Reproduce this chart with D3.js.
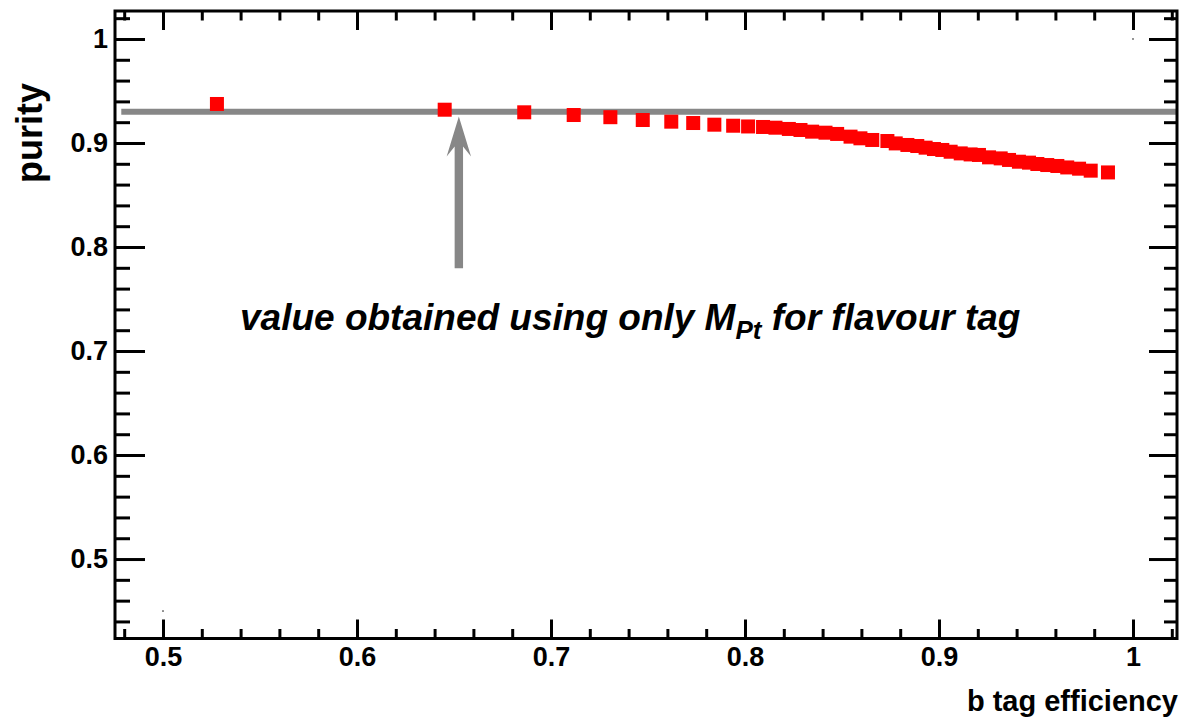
<!DOCTYPE html>
<html>
<head>
<meta charset="utf-8">
<script src="https://cdn.jsdelivr.net/npm/d3@7/dist/d3.min.js"></script>
<style>
  html, body { margin: 0; padding: 0; background: #fff; }
  svg { display: block; font-family: "Liberation Sans", Arial, Helvetica, sans-serif; }
</style>
</head>
<body>
<svg id="chart" width="1180" height="719"></svg>
<script>
// ---- data ----
const efficiency = [
  0.5278, 0.6452, 0.6862, 0.7117, 0.7306, 0.7473, 0.7620, 0.7733, 0.7842, 0.7939, 0.8016,
  0.8093, 0.8157, 0.8226, 0.8286, 0.8346, 0.8415, 0.8475, 0.8544, 0.8595, 0.8656,
  0.8734, 0.8777, 0.8837, 0.8888, 0.8931, 0.8974, 0.9017, 0.9060, 0.9112, 0.9163, 0.9206, 0.9258,
  0.9318, 0.9361, 0.9412, 0.9464, 0.9507, 0.9558, 0.9610, 0.9661, 0.9722, 0.9782, 0.9871
];
const purity = [
  0.9375, 0.9320, 0.9295, 0.9269, 0.9248, 0.9221, 0.9205, 0.9192, 0.9176, 0.9166, 0.9159,
  0.9154, 0.9147, 0.9135, 0.9125, 0.9109, 0.9099, 0.9087, 0.9061, 0.9045, 0.9029,
  0.9019, 0.8996, 0.8981, 0.8971, 0.8955, 0.8942, 0.8933, 0.8916, 0.8900, 0.8890, 0.8885, 0.8862,
  0.8852, 0.8837, 0.8820, 0.8811, 0.8798, 0.8788, 0.8779, 0.8765, 0.8753, 0.8734, 0.8717
];
// tiny range-setting points visible in the frame
const rangeX = [0.5, 1.0];
const rangeY = [0.45, 1.0];
// reference value (M_Pt only)
const referencePurity = 0.93;
const arrowX = 0.6525;
const arrowFrom = 0.7795;
const arrowTo = 0.9255;

const xTickLabels = ["0.5", "0.6", "0.7", "0.8", "0.9", "1"];
const yTickLabels = ["0.5", "0.6", "0.7", "0.8", "0.9", "1"];
const xTitle = "b tag efficiency";
const yTitle = "purity";

// ---- layout ----
const svg = d3.select("#chart");
const L = 115, R = 1177, T = 11, B = 638.5;
const x = d3.scaleLinear().domain([0.47526, 1.02268]).range([L, R]);
const y = d3.scaleLinear().domain([0.4236, 1.0269]).range([B, T]);

const xMajor = xTickLabels.map(Number);
const yMajor = yTickLabels.map(Number);
const xMinor = d3.range(24, 52).map(i => i * 0.02).filter(v => v >= 0.4753 && v <= 1.0227 && !xMajor.some(m => Math.abs(m - v) < 1e-6));
const yMinor = d3.range(22, 52).map(i => i * 0.02).filter(v => v >= 0.4236 && v <= 1.0269 && !yMajor.some(m => Math.abs(m - v) < 1e-6));

const grey = "#878787";

// ---- reference line ----
svg.append("line")
  .attr("x1", x(0.4785)).attr("x2", x(1.0227))
  .attr("y1", y(referencePurity)).attr("y2", y(referencePurity))
  .attr("stroke", grey).attr("stroke-width", 6);

// ---- data squares ----
const pts = efficiency.map((e, i) => ({ e, p: purity[i] }));
svg.append("g").selectAll("rect").data(pts).join("rect")
  .attr("x", d => x(d.e) - 7).attr("y", d => y(d.p) - 7)
  .attr("width", 14).attr("height", 14)
  .attr("fill", "#ff0000");

// tiny dots
svg.append("g").selectAll("rect").data(rangeX.map((v, i) => ({ e: v, p: rangeY[i] }))).join("rect")
  .attr("x", d => x(d.e) - 0.75).attr("y", d => y(d.p) - 0.75)
  .attr("width", 1.5).attr("height", 1.5).attr("fill", "#444");

// ---- arrow ----
const ax = x(arrowX), ay0 = y(arrowFrom), ay1 = y(arrowTo);
const sw = 4.2, hw = 12.2, hl = 40, notch = 30;
svg.append("path")
  .attr("d", `M${ax},${ay1} L${ax + hw},${ay1 + hl} L${ax + sw},${ay1 + notch} L${ax + sw},${ay0} L${ax - sw},${ay0} L${ax - sw},${ay1 + notch} L${ax - hw},${ay1 + hl} Z`)
  .attr("fill", grey);

// ---- annotation ----
const ann = svg.append("text")
  .attr("x", x(0.5397)).attr("y", y(0.7202))
  .attr("font-size", 37).attr("font-weight", "bold").attr("font-style", "italic")
  .attr("fill", "#000");
ann.append("tspan").text("value obtained using only M");
ann.append("tspan").attr("font-size", 26).attr("dy", 9).text("Pt");
ann.append("tspan").attr("dy", -9).text(" for flavour tag");

// ---- axes (ticks) ----
function tickStyle(g) {
  g.select(".domain").remove();
  g.selectAll(".tick line").attr("stroke", "#000").attr("stroke-width", 3);
}
// bottom
svg.append("g").attr("transform", `translate(0,${B})`)
  .call(d3.axisBottom(x).tickValues(xMajor).tickSize(-19).tickPadding(8.5)
    .tickFormat((d, i) => xTickLabels[i]))
  .call(tickStyle)
  .call(g => g.selectAll(".tick text").attr("font-size", 27).attr("font-weight", "bold").attr("fill", "#000")
    .attr("font-family", "Liberation Sans, Arial, sans-serif"));
svg.append("g").attr("transform", `translate(0,${B})`)
  .call(d3.axisBottom(x).tickValues(xMinor).tickSize(-9.5).tickFormat(""))
  .call(tickStyle);
// top
svg.append("g").attr("transform", `translate(0,${T})`)
  .call(d3.axisTop(x).tickValues(xMajor).tickSize(-19).tickFormat(""))
  .call(tickStyle);
svg.append("g").attr("transform", `translate(0,${T})`)
  .call(d3.axisTop(x).tickValues(xMinor).tickSize(-9.5).tickFormat(""))
  .call(tickStyle);
// left
svg.append("g").attr("transform", `translate(${L},0)`)
  .call(d3.axisLeft(y).tickValues(yMajor).tickSize(-30).tickPadding(7)
    .tickFormat((d, i) => yTickLabels[i]))
  .call(tickStyle)
  .call(g => g.selectAll(".tick text").attr("font-size", 27).attr("font-weight", "bold").attr("fill", "#000")
    .attr("font-family", "Liberation Sans, Arial, sans-serif"));
svg.append("g").attr("transform", `translate(${L},0)`)
  .call(d3.axisLeft(y).tickValues(yMinor).tickSize(-15).tickFormat(""))
  .call(tickStyle);
// right
svg.append("g").attr("transform", `translate(${R},0)`)
  .call(d3.axisRight(y).tickValues(yMajor).tickSize(-28).tickFormat(""))
  .call(tickStyle);
svg.append("g").attr("transform", `translate(${R},0)`)
  .call(d3.axisRight(y).tickValues(yMinor).tickSize(-13).tickFormat(""))
  .call(tickStyle);

// ---- frame ----
svg.append("rect")
  .attr("x", L).attr("y", T).attr("width", R - L).attr("height", B - T)
  .attr("fill", "none").attr("stroke", "#000").attr("stroke-width", 3);

// ---- titles ----
svg.append("text")
  .attr("x", 1178).attr("y", 711)
  .attr("text-anchor", "end")
  .attr("font-size", 29).attr("font-weight", "bold").text(xTitle);
svg.append("text")
  .attr("transform", `translate(42,${(82 + 184) / 2}) rotate(-90)`)
  .attr("text-anchor", "middle")
  .attr("font-size", 36).attr("font-weight", "bold").text(yTitle);
</script>
</body>
</html>
